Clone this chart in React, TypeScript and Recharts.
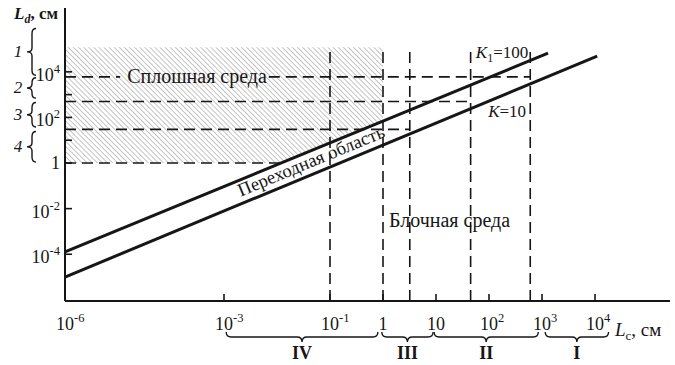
import React from "react";
import {
  ComposedChart,
  Line,
  Area,
  XAxis,
  YAxis,
  ReferenceLine,
  ReferenceDot,
} from "recharts";

const FONT = '"Liberation Serif", "Times New Roman", serif';
const INK = "#161616";

// шкалы, см
const lcRange = [1e-6, 2.6e5];
const ldRange = [8.9e-7, 6.3e6];
const lcTicks = [1e-6, 1e-3, 1e-1, 1, 10, 1e2, 1e3, 1e4];
const ldTicks = [1e-4, 1e-2, 1, 10, 1e2, 1e3, 1e4];
const ldLabelled = [1e-4, 1e-2, 1, 1e2, 1e4];

// границы переходной области
const k100 = [
  { lc: 1e-6, ld: 1.26e-4 },
  { lc: 1.3e3, ld: 6.6e4 },
];
const k10 = [
  { lc: 1e-6, ld: 1e-5 },
  { lc: 1.1e4, ld: 4.9e4 },
];

// заштрихованная зона (сплошная среда)
const solidZone = [
  { lc: 1e-6, lo: 1, hi: 1.2e5 },
  { lc: 0.012, lo: 1, hi: 1.2e5 },
  { lc: 1, lo: 69, hi: 1.2e5 },
];

// пунктиры
const cutLc = [0.1, 1, 3.2, 45, 600];
const cutTop = 1e5;
const levelLd = [1, 30, 500, 6000];
const levelEnd = [0.012, 3.2, 45, 600];
const textGap = [1.1e-5, 7e-3]; // разрыв под надписью на уровне 6000

// интервалы масштабов
const ldGroups = [
  { name: "1", from: 8e5, to: 7000 },
  { name: "2", from: 5500, to: 700 },
  { name: "3", from: 450, to: 38 },
  { name: "4", from: 24, to: 1.1 },
];
const lcGroups = [
  { name: "IV", from: 1.1e-3, to: 0.8 },
  { name: "III", from: 0.95, to: 8.8 },
  { name: "II", from: 9.2, to: 850 },
  { name: "I", from: 1150, to: 1.8e4 },
];

const expOf = (v: number) => Math.round(Math.log10(v));

function Power({ x, y, e, anchor }: { x: number; y: number; e: number; anchor: "start" | "end" }) {
  return (
    <text x={x} y={y} textAnchor={anchor} fill={INK} style={{ fontFamily: FONT }} fontSize={18}>
      {e === 0 ? "1" : "10"}
      {e !== 0 && e !== 1 && (
        <tspan fontSize={12.5} dy={-8}>
          {String(e)}
        </tspan>
      )}
    </text>
  );
}

function XTick(props: any) {
  const { x, y, payload } = props;
  const v = payload.value;
  const e = expOf(v);
  const half = e === 0 ? 4.5 : 9;
  return (
    <g>
      {e > -6 && <line x1={x} y1={y} x2={x} y2={y - 7} stroke={INK} strokeWidth={1.6} />}
      <Power x={x - half} y={y + 29} e={e} anchor="start" />
    </g>
  );
}

function YTick(props: any) {
  const { x, y, payload } = props;
  const v = payload.value;
  const e = expOf(v);
  return (
    <g>
      <line x1={x} y1={y} x2={x + 7} y2={y} stroke={INK} strokeWidth={1.6} />
      {ldLabelled.includes(v) && <Power x={x - 5} y={y + (e === 0 ? 6 : 9)} e={e} anchor="end" />}
    </g>
  );
}

function BraceBelow(p: any) {
  const { x1, x2, y1, name } = p;
  const y = y1 + 36;
  const m = (x1 + x2) / 2;
  const d = `M${x1},${y - 5} Q${x1},${y} ${x1 + 5},${y} L${m - 5},${y} Q${m},${y} ${m},${y + 5} Q${m},${y} ${m + 5},${y} L${x2 - 5},${y} Q${x2},${y} ${x2},${y - 5}`;
  return (
    <g>
      <path d={d} fill="none" stroke={INK} strokeWidth={1.4} />
      <text x={m} y={y + 22} textAnchor="middle" fill={INK} style={{ fontFamily: FONT }} fontSize={18} fontWeight="bold">
        {name}
      </text>
    </g>
  );
}

function BraceLeft(p: any) {
  const { x1, y1, y2, name } = p;
  const x = x1 - 33;
  const m = (y1 + y2) / 2;
  const d = `M${x + 4},${y1} Q${x},${y1} ${x},${y1 + 5} L${x},${m - 4} Q${x},${m} ${x - 5},${m} Q${x},${m} ${x},${m + 4} L${x},${y2 - 5} Q${x},${y2} ${x + 4},${y2}`;
  return (
    <g>
      <path d={d} fill="none" stroke={INK} strokeWidth={1.4} />
      <text x={x - 14} y={m + 5} textAnchor="middle" fill={INK} style={{ fontFamily: FONT }} fontSize={17} fontStyle="italic">
        {name}
      </text>
    </g>
  );
}

const dash = { stroke: INK, strokeWidth: 1.6, strokeDasharray: "11 6", ifOverflow: "visible" as const };

export default function App() {
  const [lcMin, lcMax] = lcRange;
  const [ldMin, ldMax] = ldRange;
  const txt = { fill: INK, style: { fontFamily: FONT }, fontSize: 17 };

  return (
    <div style={{ position: "absolute", left: 0, top: 0, width: 675, height: 365, background: "#fff", fontFamily: FONT }}>
      <ComposedChart width={675} height={365} margin={{ top: 8, right: 5, bottom: 24, left: 5 }}>
        <defs>
          <pattern id="hatch" width="3.6" height="3.6" patternUnits="userSpaceOnUse" patternTransform="rotate(-45)">
            <line x1="0" y1="0" x2="0" y2="3.6" stroke="#8a8a8a" strokeWidth="1" />
          </pattern>
        </defs>
        <XAxis
          type="number"
          dataKey="lc"
          scale="log"
          domain={lcRange}
          allowDataOverflow
          ticks={lcTicks}
          interval={0}
          height={40}
          tickSize={0}
          tickMargin={0}
          tickLine={false}
          tick={<XTick />}
          axisLine={{ stroke: INK, strokeWidth: 2 }}
        />
        <YAxis
          type="number"
          scale="log"
          domain={ldRange}
          allowDataOverflow
          ticks={ldTicks}
          interval={0}
          width={60}
          tickSize={0}
          tickMargin={0}
          tickLine={false}
          tick={<YTick />}
          axisLine={{ stroke: INK, strokeWidth: 2 }}
        />

        <Area
          data={solidZone}
          dataKey={(d: any) => [d.lo, d.hi]}
          type="linear"
          stroke="none"
          fill="url(#hatch)"
          fillOpacity={1}
          isAnimationActive={false}
        />

        {cutLc.map((lc) => (
          <ReferenceLine key={`v${lc}`} segment={[{ x: lc, y: ldMin }, { x: lc, y: cutTop }]} {...dash} />
        ))}
        {levelLd.map((ld, i) =>
          i === levelLd.length - 1 ? (
            <React.Fragment key={`h${ld}`}>
              <ReferenceLine segment={[{ x: lcMin, y: ld }, { x: textGap[0], y: ld }]} {...dash} />
              <ReferenceLine segment={[{ x: textGap[1], y: ld }, { x: levelEnd[i], y: ld }]} {...dash} />
            </React.Fragment>
          ) : (
            <ReferenceLine key={`h${ld}`} segment={[{ x: lcMin, y: ld }, { x: levelEnd[i], y: ld }]} {...dash} />
          )
        )}

        <Line data={k100} dataKey="ld" type="linear" stroke={INK} strokeWidth={3} dot={false} isAnimationActive={false} />
        <Line data={k10} dataKey="ld" type="linear" stroke={INK} strokeWidth={3} dot={false} isAnimationActive={false} />

        {lcGroups.map((g) => (
          <ReferenceLine
            key={g.name}
            segment={[{ x: g.from, y: ldMin }, { x: g.to, y: ldMin }]}
            ifOverflow="visible"
            shape={(p: any) => <BraceBelow {...p} name={g.name} />}
          />
        ))}
        {ldGroups.map((g) => (
          <ReferenceLine
            key={g.name}
            segment={[{ x: lcMin, y: g.from }, { x: lcMin, y: g.to }]}
            ifOverflow="visible"
            shape={(p: any) => <BraceLeft {...p} name={g.name} />}
          />
        ))}

        <ReferenceDot
          x={3.1e-4}
          y={6000}
          r={0}
          ifOverflow="visible"
          shape={(p: any) => (
            <text x={p.cx} y={p.cy + 6} textAnchor="middle" {...txt} fontSize={20}>
              Сплошная среда
            </text>
          )}
        />
        <ReferenceDot
          x={18}
          y={3.2e-3}
          r={0}
          ifOverflow="visible"
          shape={(p: any) => (
            <text x={p.cx} y={p.cy + 7} textAnchor="middle" {...txt} fontSize={20}>
              Блочная среда
            </text>
          )}
        />
        <ReferenceDot
          x={176}
          y={6.6e4}
          r={0}
          ifOverflow="visible"
          shape={(p: any) => (
            <text x={p.cx} y={p.cy + 5} textAnchor="middle" {...txt}>
              <tspan fontStyle="italic">K</tspan>
              <tspan fontSize={12} dy={4}>1</tspan>
              <tspan dy={-4}>=100</tspan>
            </text>
          )}
        />
        <ReferenceDot
          x={220}
          y={170}
          r={0}
          ifOverflow="visible"
          shape={(p: any) => (
            <text x={p.cx} y={p.cy + 5} textAnchor="middle" {...txt}>
              <tspan fontStyle="italic">K</tspan>=10
            </text>
          )}
        />
        <ReferenceDot
          x={0.044}
          y={1.22}
          r={0}
          ifOverflow="visible"
          shape={(p: any) => (
            <text
              x={p.cx}
              y={p.cy + 6}
              textAnchor="middle"
              transform={`rotate(-22.5 ${p.cx} ${p.cy})`}
              {...txt}
              fontSize={18.5}
            >
              Переходная область
            </text>
          )}
        />

        <ReferenceDot
          x={lcMin}
          y={ldMax}
          r={0}
          ifOverflow="visible"
          shape={(p: any) => (
            <text x={p.cx - 51} y={p.cy + 11} {...txt} fontWeight="bold">
              <tspan fontStyle="italic">L</tspan>
              <tspan fontSize={12} dy={4} fontStyle="italic">d</tspan>
              <tspan dy={-4}>, см</tspan>
            </text>
          )}
        />
        <ReferenceDot
          x={lcMax}
          y={ldMin}
          r={0}
          ifOverflow="visible"
          shape={(p: any) => (
            <text x={p.cx - 55} y={p.cy + 35} {...txt} fontSize={19}>
              <tspan fontStyle="italic">L</tspan>
              <tspan fontSize={13} dy={4}>c</tspan>
              <tspan dy={-4}>, см</tspan>
            </text>
          )}
        />
      </ComposedChart>
    </div>
  );
}
